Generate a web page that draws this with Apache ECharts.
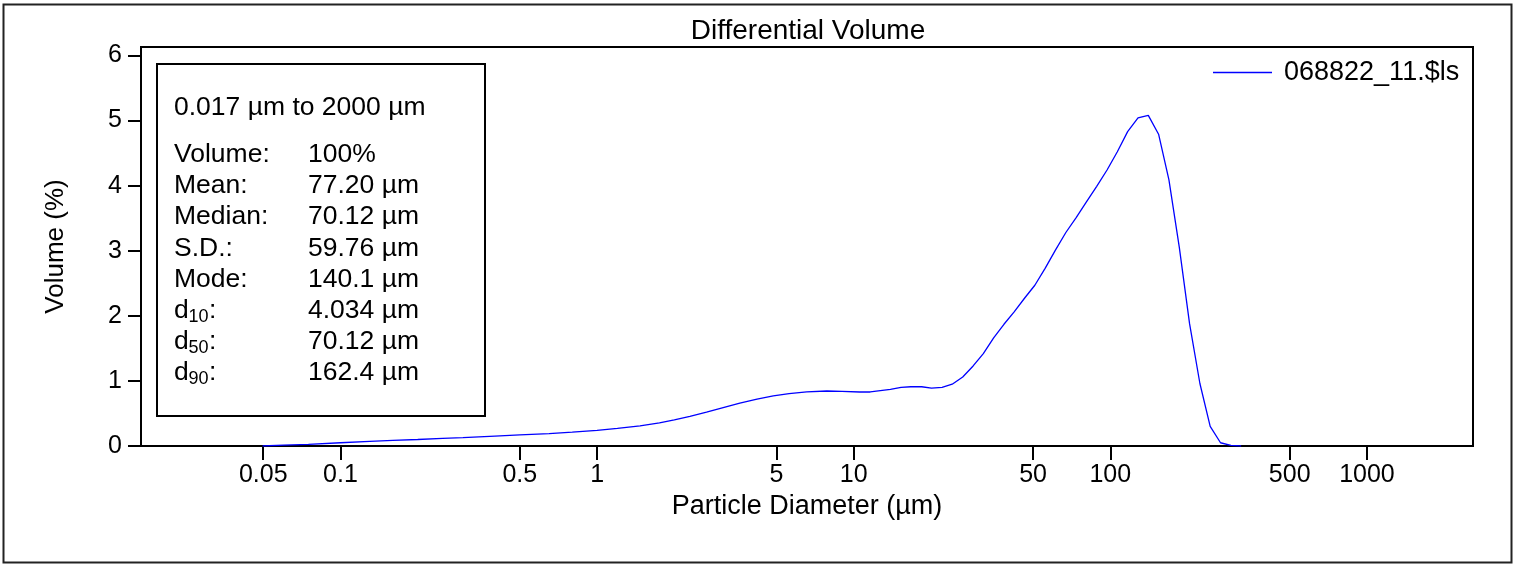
<!DOCTYPE html>
<html>
<head>
<meta charset="utf-8">
<script src="https://cdn.jsdelivr.net/npm/echarts@6/dist/echarts.min.js"></script>
<style>
html,body{margin:0;padding:0;background:#fff;}
#chart{width:1515px;height:567px;}
</style>
</head>
<body>
<div id="chart"></div>
<script>
// ---- data ----
const diameters = [0.0497, 0.06, 0.075, 0.1, 0.13, 0.16, 0.2, 0.25, 0.3, 0.4, 0.5, 0.65, 0.8, 1.0, 1.2, 1.47, 1.75, 2.0, 2.3, 2.67, 3.1, 3.6, 4.2, 4.86, 5.6, 6.56, 7.86, 9.0, 10.55, 11.6, 12.7, 13.9, 15.3, 16.7, 18.4, 20.1, 22.1, 24.2, 26.6, 29.2, 32.0, 35.1, 38.5, 42.2, 46.3, 50.8, 55.7, 61.1, 67.1, 73.6, 80.7, 88.5, 97.1, 106.5, 116.8, 128.2, 140.6, 154.2, 169.2, 185.6, 203.6, 223.4, 245, 268.8, 294.9, 323.5];
const volumes = [0, 0.012, 0.026, 0.05, 0.07, 0.085, 0.10, 0.117, 0.13, 0.152, 0.17, 0.19, 0.213, 0.24, 0.27, 0.31, 0.355, 0.40, 0.455, 0.52, 0.59, 0.66, 0.72, 0.77, 0.805, 0.83, 0.845, 0.84, 0.83, 0.83, 0.85, 0.87, 0.90, 0.91, 0.91, 0.89, 0.90, 0.95, 1.06, 1.23, 1.42, 1.66, 1.87, 2.06, 2.27, 2.47, 2.73, 3.01, 3.28, 3.51, 3.75, 3.99, 4.24, 4.52, 4.83, 5.04, 5.08, 4.79, 4.09, 3.06, 1.88, 0.96, 0.30, 0.05, 0.01, 0];
const xTickValues = [0.05, 0.1, 0.5, 1, 5, 10, 50, 100, 500, 1000];
const yTickValues = [0, 1, 2, 3, 4, 5, 6];
const seriesName = '068822_11.$ls';
const chartTitle = 'Differential Volume';
const xAxisTitle = 'Particle Diameter (µm)';
const yAxisTitle = 'Volume (%)';
const rangeText = '0.017 µm to 2000 µm';
const statLabels = ['Volume:', 'Mean:', 'Median:', 'S.D.:', 'Mode:'];
const percentileSubs = ['10', '50', '90'];
const statValues = ['100%', '77.20 µm', '70.12 µm', '59.76 µm', '140.1 µm', '4.034 µm', '70.12 µm', '162.4 µm'];

// ---- build ----
const FONT = "'Liberation Sans', Arial, Helvetica, sans-serif";
const seriesData = diameters.map((d, i) => [d, volumes[i]]);

const boxLeft = 157, boxTop = 64, boxRight = 485, boxBottom = 416;
const textX = 174, valueX = 308;
const rowY = [155, 186, 217, 249, 280, 311, 342, 373];

const graphics = [
  { type: 'rect', shape: { x: 3.5, y: 4.5, width: 1508, height: 558 },
    style: { fill: 'none', stroke: '#222', lineWidth: 2 }, silent: true },
  { type: 'rect', shape: { x: boxLeft, y: boxTop, width: boxRight - boxLeft, height: boxBottom - boxTop },
    style: { fill: '#fff', stroke: '#000', lineWidth: 2 }, z: 10 },
  { type: 'text', x: textX, y: 108, z: 11,
    style: { text: rangeText, fontSize: 26.5, fontFamily: FONT, fill: '#000', align: 'left', verticalAlign: 'middle' } }
];
statLabels.forEach((lab, i) => {
  graphics.push({ type: 'text', x: textX, y: rowY[i], z: 11,
    style: { text: lab, fontSize: 26.5, fontFamily: FONT, fill: '#000', align: 'left', verticalAlign: 'middle' } });
});
percentileSubs.forEach((sub, j) => {
  const y = rowY[statLabels.length + j];
  graphics.push({ type: 'text', x: textX, y: y, z: 11,
    style: { text: 'd', fontSize: 26.5, fontFamily: FONT, fill: '#000', align: 'left', verticalAlign: 'middle' } });
  graphics.push({ type: 'text', x: textX + 14.5, y: y + 6.5, z: 11,
    style: { text: sub, fontSize: 18, fontFamily: FONT, fill: '#000', align: 'left', verticalAlign: 'middle' } });
  graphics.push({ type: 'text', x: textX + 35, y: y, z: 11,
    style: { text: ':', fontSize: 26.5, fontFamily: FONT, fill: '#000', align: 'left', verticalAlign: 'middle' } });
});
statValues.forEach((v, i) => {
  graphics.push({ type: 'text', x: valueX, y: rowY[i], z: 11,
    style: { text: v, fontSize: 26.5, fontFamily: FONT, fill: '#000', align: 'left', verticalAlign: 'middle' } });
});

const chart = echarts.init(document.getElementById('chart'), null, { renderer: 'canvas' });
chart.setOption({
  animation: false,
  backgroundColor: '#fff',
  textStyle: { fontFamily: FONT, color: '#000' },
  title: {
    text: chartTitle, left: 808, top: 17, textAlign: 'center', padding: 0,
    textStyle: { fontSize: 28, fontWeight: 'normal', color: '#000', fontFamily: FONT }
  },
  legend: {
    data: [{ name: seriesName, icon: 'rect' }],
    left: 1213, top: 59, padding: 0,
    itemWidth: 59, itemHeight: 1.5,
    textStyle: { fontSize: 27, color: '#000', fontFamily: FONT, padding: [0, 0, 0, 7] }
  },
  grid: {
    left: 141, top: 47, right: 42, bottom: 121,
    show: true, borderColor: '#000', borderWidth: 2, backgroundColor: 'transparent'
  },
  xAxis: {
    type: 'log', logBase: 10, min: 0.0167, max: 2590,
    name: xAxisTitle, nameLocation: 'middle', nameGap: 46,
    nameTextStyle: { fontSize: 27, color: '#000', fontFamily: FONT },
    axisLine: { show: true, lineStyle: { color: '#000', width: 2 } },
    axisTick: { show: true, length: 14, inside: false, customValues: xTickValues, lineStyle: { color: '#000', width: 2 } },
    axisLabel: { show: true, margin: 17, customValues: xTickValues, fontSize: 25, color: '#000', fontFamily: FONT,
      formatter: v => String(v) },
    splitLine: { show: false }, minorTick: { show: false }
  },
  yAxis: {
    type: 'value', min: 0, max: 6.13, interval: 1,
    name: yAxisTitle, nameLocation: 'middle', nameGap: 72, nameRotate: 90,
    nameTextStyle: { fontSize: 26, color: '#000', fontFamily: FONT },
    axisLine: { show: true, lineStyle: { color: '#000', width: 2 } },
    axisTick: { show: true, length: 13, inside: false, customValues: yTickValues, lineStyle: { color: '#000', width: 2 } },
    axisLabel: { show: true, margin: 19, customValues: yTickValues, fontSize: 25, color: '#000', fontFamily: FONT },
    splitLine: { show: false }
  },
  series: [{
    name: seriesName, type: 'line', data: seriesData,
    symbol: 'none', showSymbol: false, smooth: false,
    lineStyle: { color: '#0000ff', width: 1.3 }, itemStyle: { color: '#0000ff' },
    z: 5
  }],
  graphic: graphics
});
</script>
</body>
</html>
